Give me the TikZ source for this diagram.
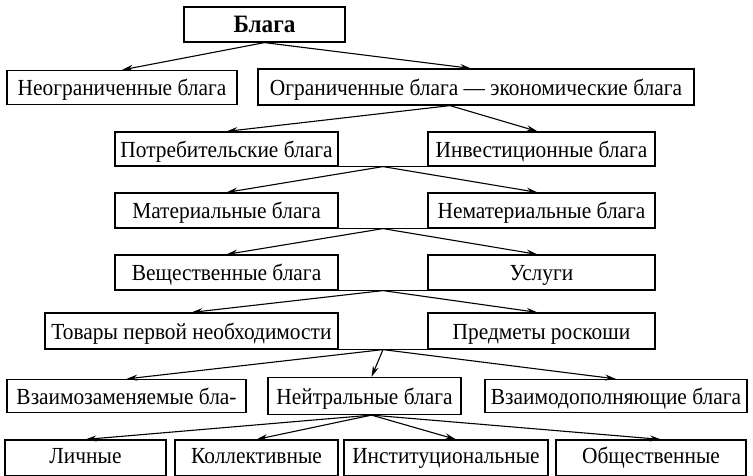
\documentclass[tikz,border=0pt]{standalone}
\usepackage{fontspec}
\setmainfont{Liberation Serif}[FakeStretch=0.93]
\usepackage{tikz}
\usetikzlibrary{arrows.meta, positioning, calc}

\begin{document}
\begin{tikzpicture}[
        x=1pt, y=-1pt,
        good/.style={
            rectangle,
            draw=black,
            fill=white,
            inner sep=0pt,
            minimum height=35pt,
            text height=18pt,
            text depth=2pt,
            line width=1.2pt,
            font=\fontsize{23}{26}\selectfont
        },
        kind/.style={good, minimum height=36pt, text height=15pt, text depth=5pt},
        link/.style={line width=1.1pt, -{Stealth[length=11pt, width=6pt]}}
    ]
    \useasboundingbox[fill=white] (0,0) rectangle (753,475);

    \node[good, minimum width=161pt, font=\fontsize{25}{28}\selectfont\bfseries] (blaga) at (264.5, 24.5) {Блага};

    \node[good, minimum width=230pt, minimum height=34pt] (neogr) at (122, 87.5) {Неограниченные блага};
    \node[good, minimum width=436pt, minimum height=36pt] (ogr) at (476, 87) {Ограниченные блага — экономические блага};

    \node[good, minimum width=223pt, minimum height=34pt] (potr) at (226.5, 149) {Потребительские блага};
    \node[good, minimum width=227pt, minimum height=34pt] (invest) at (541.5, 149) {Инвестиционные блага};

    \node[good, minimum width=223pt] (mater) at (226.5, 210.5) {Материальные блага};
    \node[good, minimum width=227pt] (nemater) at (541.5, 210.5) {Нематериальные блага};

    \node[good, minimum width=223pt] (vesch) at (226.5, 272.5) {Вещественные блага};
    \node[good, minimum width=227pt] (uslugi) at (541.5, 272.5) {Услуги};

    \node[good, minimum width=293pt, minimum height=36pt] (tovary) at (191.5, 331) {Товары первой необходимости};
    \node[good, minimum width=227pt, minimum height=36pt] (roskosh) at (541.5, 331) {Предметы роскоши};

    \node[good, minimum width=239pt, minimum height=33pt] (zamen) at (126.5, 396) {Взаимозаменяемые бла-};
    \node[good, minimum width=193pt, minimum height=37pt] (neitr) at (364.5, 396) {Нейтральные блага};
    \node[good, minimum width=262pt, minimum height=33pt] (dopoln) at (616, 396) {Взаимодополняющие блага};

    \node[kind, minimum width=161pt] (lichn) at (85.5, 458) {Личные};
    \node[kind, minimum width=163pt] (kollekt) at (256.5, 458) {Коллективные};
    \node[kind, minimum width=204pt] (inst) at (446, 458) {Институциональные};
    \node[kind, minimum width=190pt] (obsch) at (651, 458) {Общественные};

    % joints under the pairs
    \draw[line width=1.2pt] (potr.south east) -- (invest.south west);
    \draw[line width=1.2pt] (mater.south east) -- (nemater.south west);
    \draw[line width=1.2pt] (vesch.south east) -- (uslugi.south west);
    \draw[line width=1.2pt] (tovary.south east) -- (roskosh.south west);

    \coordinate (forkpotr) at ($(potr.south east)!0.5!(invest.south west)$);
    \coordinate (forkmater) at ($(mater.south east)!0.5!(nemater.south west)$);
    \coordinate (forkvesch) at ($(vesch.south east)!0.5!(uslugi.south west)$);
    \coordinate (forktovary) at ($(tovary.south east)!0.5!(roskosh.south west)$);

    % Relationships
    \draw[link] (blaga.south) -- (neogr.north);
    \draw[link] (blaga.south) -- ([xshift=-5pt]ogr.north);
    \draw[link] ([xshift=-26pt]ogr.south) -- (potr.north);
    \draw[link] ([xshift=-26pt]ogr.south) -- ([xshift=-4pt]invest.north);
    \draw[link] (forkpotr) -- (mater.north);
    \draw[link] (forkpotr) -- ([xshift=-4pt]nemater.north);
    \draw[link] (forkmater) -- (vesch.north);
    \draw[link] (forkmater) -- ([xshift=-4pt]uslugi.north);
    \draw[link] (forkvesch) -- (tovary.north);
    \draw[link] (forkvesch) -- ([xshift=-4pt]roskosh.north);
    \draw[link] (forktovary) -- (zamen.north);
    \draw[link] (forktovary) -- ([xshift=7pt]neitr.north);
    \draw[link] (forktovary) -- (dopoln.north);
    \draw[link] ([xshift=7pt]neitr.south) -- (lichn.north);
    \draw[link] ([xshift=7pt]neitr.south) -- (kollekt.north);
    \draw[link] ([xshift=7pt]neitr.south) -- ([xshift=10pt]inst.north);
    \draw[link] ([xshift=7pt]neitr.south) -- ([xshift=10pt]obsch.north);

\end{tikzpicture}
\end{document}
